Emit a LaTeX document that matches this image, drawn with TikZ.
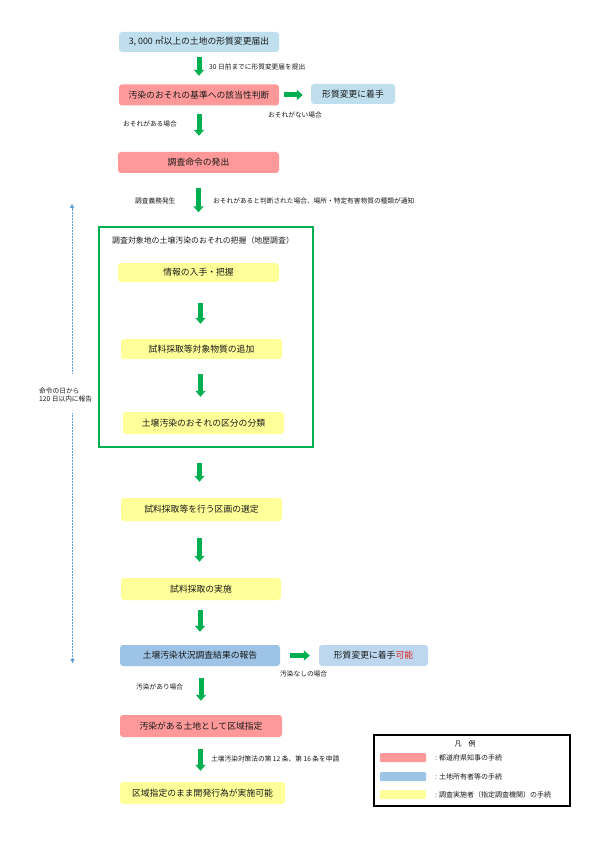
\documentclass[tikz,border=0pt]{standalone}
\usepackage{fontspec}
\setmainfont{Noto Sans CJK JP}
\usetikzlibrary{arrows.meta}
\definecolor{pinkc}{HTML}{FF9999}
\definecolor{blueA}{HTML}{BFDFEE}
\definecolor{blueB}{HTML}{9DC3E6}
\definecolor{blueC}{HTML}{BDD7EE}
\definecolor{yellowc}{HTML}{FFFF99}
\definecolor{greenc}{HTML}{00B050}
\definecolor{dotblue}{HTML}{5B9BD5}
\definecolor{redc}{HTML}{E02020}
\tikzset{
  box/.style={rounded corners=3pt, inner sep=0pt, font=\fontsize{8.8}{10}\selectfont, text=black!90},
  pbox/.style={box, fill=pinkc},
  abox/.style={box, fill=blueA},
  bbox/.style={box, fill=blueB},
  cbox/.style={box, fill=blueC},
  ybox/.style={box, fill=yellowc},
  lbl/.style={anchor=west, inner sep=0pt, font=\fontsize{6.7}{8}\selectfont, text=black!90},
  lgl/.style={anchor=west, inner sep=0pt, font=\fontsize{7}{8}\selectfont, text=black!90},
  garrow/.style={draw=greenc, line width=5pt, -{Triangle[width=10pt,length=6pt]}},
  swatch/.style={inner sep=0pt, minimum width=46pt, minimum height=9pt, rounded corners=1pt},
}
\begin{document}
\begin{tikzpicture}[x=1pt,y=-1pt]
\useasboundingbox (0,0) rectangle (595,842);
% main boxes
\node[abox, minimum width=160pt, minimum height=20pt] (b1) at (199,42) {3, 000 ㎡以上の土地の形質変更届出};
\node[pbox, minimum width=160pt, minimum height=21pt] (b2) at (199,95) {汚染のおそれの基準への該当性判断};
\node[abox, minimum width=84pt, minimum height=20pt] (b2r) at (353,94) {形質変更に着手};
\node[pbox, minimum width=161pt, minimum height=21pt] (b3) at (198.5,162.5) {調査命令の発出};
\node[draw=greenc, line width=1.4pt, minimum width=214pt, minimum height=220pt, inner sep=0pt] (gb) at (206,337) {};
\node[anchor=west, inner sep=0pt, font=\fontsize{7.9}{9}\selectfont, text=black!90] (gt) at (112,240) {調査対象地の土壌汚染のおそれの把握（地歴調査）};
\node[ybox, minimum width=161pt, minimum height=19pt] (y1) at (198.5,272.5) {情報の入手・把握};
\node[ybox, minimum width=161pt, minimum height=20pt] (y2) at (201.5,349) {試料採取等対象物質の追加};
\node[ybox, minimum width=161pt, minimum height=22pt] (y3) at (203.5,423) {土壌汚染のおそれの区分の分類};
\node[ybox, minimum width=161pt, minimum height=23pt] (y4) at (201.5,509.5) {試料採取等を行う区画の選定};
\node[ybox, minimum width=160pt, minimum height=22pt] (y5) at (201,589) {試料採取の実施};
\node[bbox, minimum width=160pt, minimum height=21pt] (b4) at (200,655.5) {土壌汚染状況調査結果の報告};
\node[cbox, minimum width=109pt, minimum height=21pt] (b4r) at (373.5,655.5) {形質変更に着手\textcolor{redc}{可能}};
\node[pbox, minimum width=162pt, minimum height=22pt] (p3) at (201,726) {汚染がある土地として区域指定};
\node[ybox, minimum width=165pt, minimum height=22pt] (y6) at (202.5,793) {区域指定のまま開発行為が実施可能};
% arrows
\draw[garrow, shorten <=5pt, shorten >=8.5pt] (b1.south) -- (b2.north);
\draw[garrow, shorten <=8pt, shorten >=16pt] (b2.south) -- (b3.north -| b2.south);
\draw[garrow, shorten <=15pt, shorten >=14pt] (b3.south) -- (gb.north -| b3.south);
\draw[garrow, shorten <=21pt, shorten >=15pt] (y1.south) ++(2,0) coordinate (a4s) (a4s) -- (y2.north -| a4s);
\draw[garrow, shorten <=15pt, shorten >=15pt] (y2.south) ++(-1,0) coordinate (a5s) (a5s) -- (y3.north -| a5s);
\draw[garrow, shorten <=15pt, shorten >=16pt] (gb.south -| y4.north) ++(-2,0) coordinate (a6s) (a6s) -- (y4.north -| a6s);
\draw[garrow, shorten <=17pt, shorten >=16pt] (y4.south) ++(-2,0) coordinate (a7s) (a7s) -- (y5.north -| a7s);
\draw[garrow, shorten <=10pt, shorten >=13pt] (y5.south) ++(-1,0) coordinate (a8s) (a8s) -- (b4.north -| a8s);
\draw[garrow, shorten <=12pt, shorten >=14pt] (b4.south) ++(1,0) coordinate (a9s) (a9s) -- (p3.north -| a9s);
\draw[garrow, shorten <=12pt, shorten >=11pt] (p3.south) ++(-0.5,0) coordinate (a10s) (a10s) -- (y6.north -| a10s);
\draw[garrow, shorten <=5pt, shorten >=8pt] (b2.east) -- (b2r.west |- b2.east);
\draw[garrow, shorten <=10pt, shorten >=9pt] (b4.east) -- (b4r.west |- b4.east);
% labels
\node[lbl] (l1) at (209,67) {30 日前までに形質変更届を提出};
\node[lbl] (l2) at (268,115) {おそれがない場合};
\node[lbl] (l3) at (123,124) {おそれがある場合};
\node[lbl] (l4) at (135,201) {調査義務発生};
\node[lbl] (l5) at (213,201) {おそれがあると判断された場合、場所・特定有害物質の種類が通知};
\node[lbl] (l6) at (280,674) {汚染なしの場合};
\node[lbl] (l7) at (136,687) {汚染があり場合};
\node[lbl] (l8) at (211,759) {土壌汚染対策法の第 12 条、第 16 条を申請};
\node[lbl, align=left] (l9) at (39,395) {命令の日から\\120 日以内に報告};
% dotted period arrow
\coordinate (d1) at (72,373);
\coordinate (d2) at (72,204);
\coordinate (d3) at (72.5,413);
\coordinate (d4) at (72.5,663);
\draw[dotblue, densely dotted, line width=0.5pt, -{Triangle[width=4pt,length=4pt]}] (d1) -- (d2);
\draw[dotblue, densely dotted, line width=0.5pt, -{Triangle[width=4pt,length=4pt]}] (d3) -- (d4);
% legend
\node[draw=black, line width=1.3pt, minimum width=196pt, minimum height=71pt, inner sep=0pt] (lg) at (472,770.5) {};
\node[inner sep=0pt, font=\fontsize{7}{8}\selectfont] (lgt) at (465,744) {凡　例};
\node[swatch, fill=pinkc] (s1) at (403,757.5) {};
\node[swatch, fill=blueB] (s2) at (403,776.5) {};
\node[swatch, fill=yellowc] (s3) at (403,794.5) {};
\node[lgl] (t1) at (435,757.5) {: 都道府県知事の手続};
\node[lgl] (t2) at (435,776.5) {: 土地所有者等の手続};
\node[lgl] (t3) at (435,794.5) {: 調査実施者（指定調査機関）の手続};
\end{tikzpicture}
\end{document}
